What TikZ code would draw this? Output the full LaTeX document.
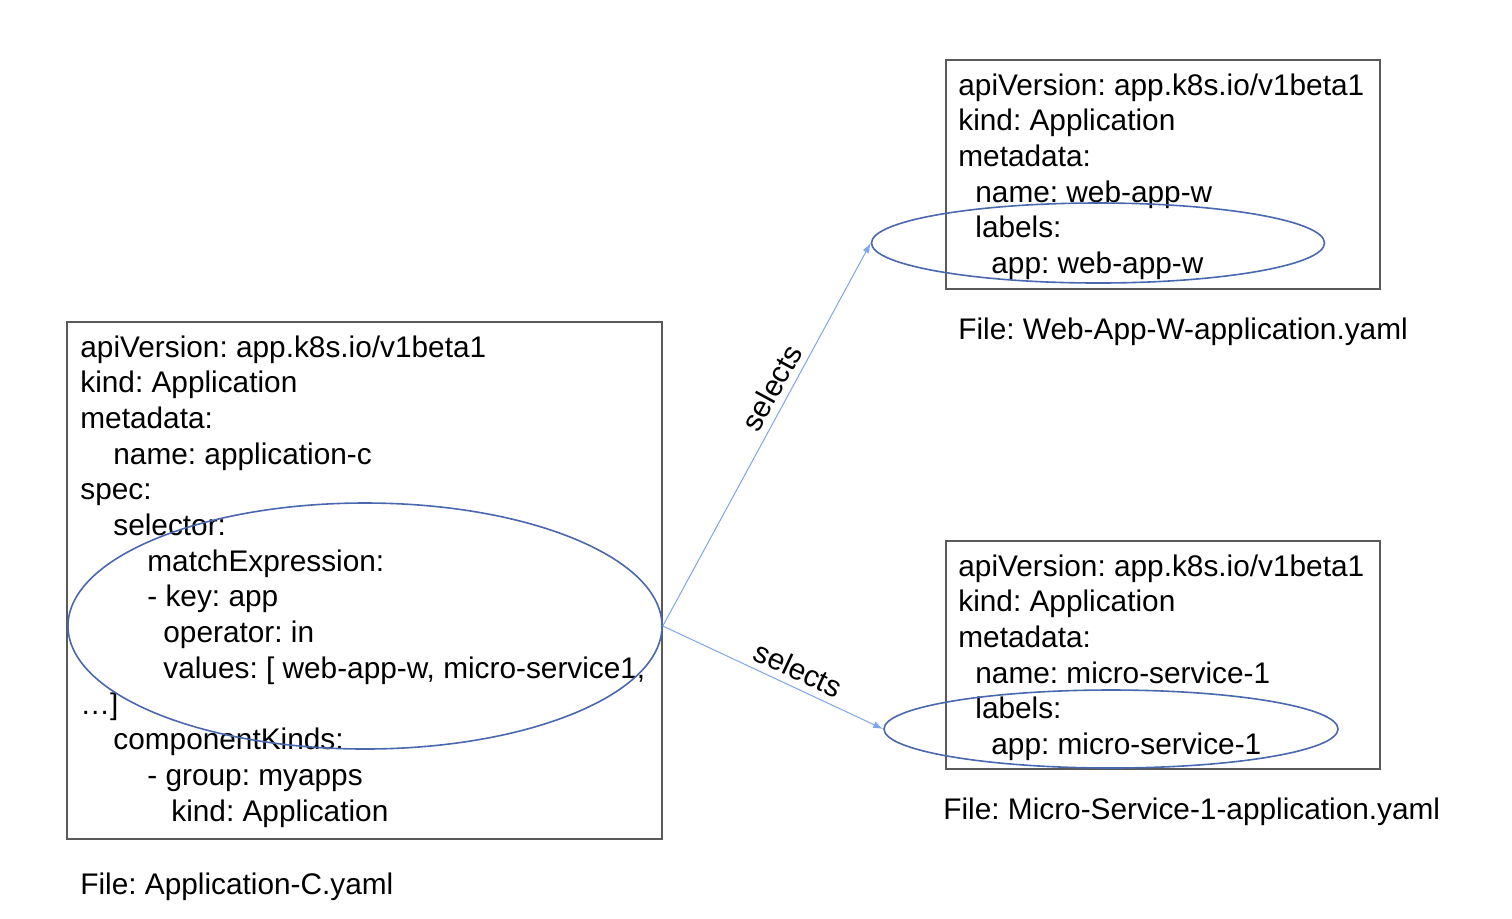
\documentclass[tikz,border=0pt]{standalone}
\usepackage{fontspec}
\setmainfont{Liberation Sans}
\usepackage{xcolor}
\usetikzlibrary{shapes.geometric,arrows.meta}
\frenchspacing

\definecolor{boxgray}{HTML}{5A5A5A}
\definecolor{ringblue}{HTML}{4A68AE}
\definecolor{linkblue}{HTML}{7EA6EA}

\begin{document}
\begin{tikzpicture}[
    x=0.5pt, y=-0.5pt,
    font=\fontsize{14.9}{17.85}\selectfont,
    yamlbox/.style={draw=boxgray, line width=1pt, minimum width=#1, inner sep=0pt},
    yamltext/.style={anchor=north west, inner sep=0pt, align=left},
    ring/.style={draw=ringblue, line width=0.8pt, ellipse, inner sep=0pt},
    link/.style={draw=linkblue, line width=0.5pt, -{Latex[length=5pt,width=3.5pt]}},
    caption/.style={anchor=base west, inner sep=0pt},
]

% Canvas
\useasboundingbox (0,0) rectangle (1512,918);

% Boxes
\node[yamlbox=297.5pt, minimum height=258.5pt] (appbox) at (364.5,580.5) {};
\node[yamlbox=217pt, minimum height=114.5pt] (webbox) at (1163,174.5) {};
\node[yamlbox=217pt, minimum height=114pt] (msbox) at (1163,655) {};

% YAML text
\node[yamltext] (apptext) at (80,335) {%
    apiVersion: app.k8s.io/v1beta1\\
    kind: Application\\
    metadata:\\
    \hspace*{16.5pt}name: application-c\\
    spec:\\
    \hspace*{16.5pt}selector:\\
    \hspace*{33.5pt}matchExpression:\\
    \hspace*{33.5pt}- key: app\\
    \hspace*{41.5pt}operator: in\\
    \hspace*{41.5pt}values: [ web-app-w, micro-service1,\\
    …]\\
    \hspace*{16.5pt}componentKinds:\\
    \hspace*{33.5pt}- group: myapps\\
    \hspace*{45.5pt}kind: Application};

\node[yamltext] (webtext) at (958,73) {%
    apiVersion: app.k8s.io/v1beta1\\
    kind: Application\\
    metadata:\\
    \hspace*{8.5pt}name: web-app-w\\
    \hspace*{8.5pt}labels:\\
    \hspace*{16.5pt}app: web-app-w};

\node[yamltext] (mstext) at (958,554) {%
    apiVersion: app.k8s.io/v1beta1\\
    kind: Application\\
    metadata:\\
    \hspace*{8.5pt}name: micro-service-1\\
    \hspace*{8.5pt}labels:\\
    \hspace*{16.5pt}app: micro-service-1};

% Captions
\node[caption] (appcap) at (80,894) {File: Application-C.yaml};
\node[caption] (webcap) at (958,339) {File: Web-App-W-application.yaml};
\node[caption] (mscap) at (943,819) {File: Micro-Service-1-application.yaml};

% Selector rings
\node[ring, minimum width=297pt, minimum height=123pt] (appring) at (365,626) {};
\node[ring, minimum width=226.5pt, minimum height=40pt] (webring) at (1098,243) {};
\node[ring, minimum width=227pt, minimum height=39pt] (msring) at (1111,729) {};

% Links
\draw[link] (appring.east) -- node[pos=0.6, sloped, above] {selects} (webring.west);
\draw[link] (appring.east) -- node[pos=0.58, sloped, above] {selects} (msring.west);

\end{tikzpicture}
\end{document}
